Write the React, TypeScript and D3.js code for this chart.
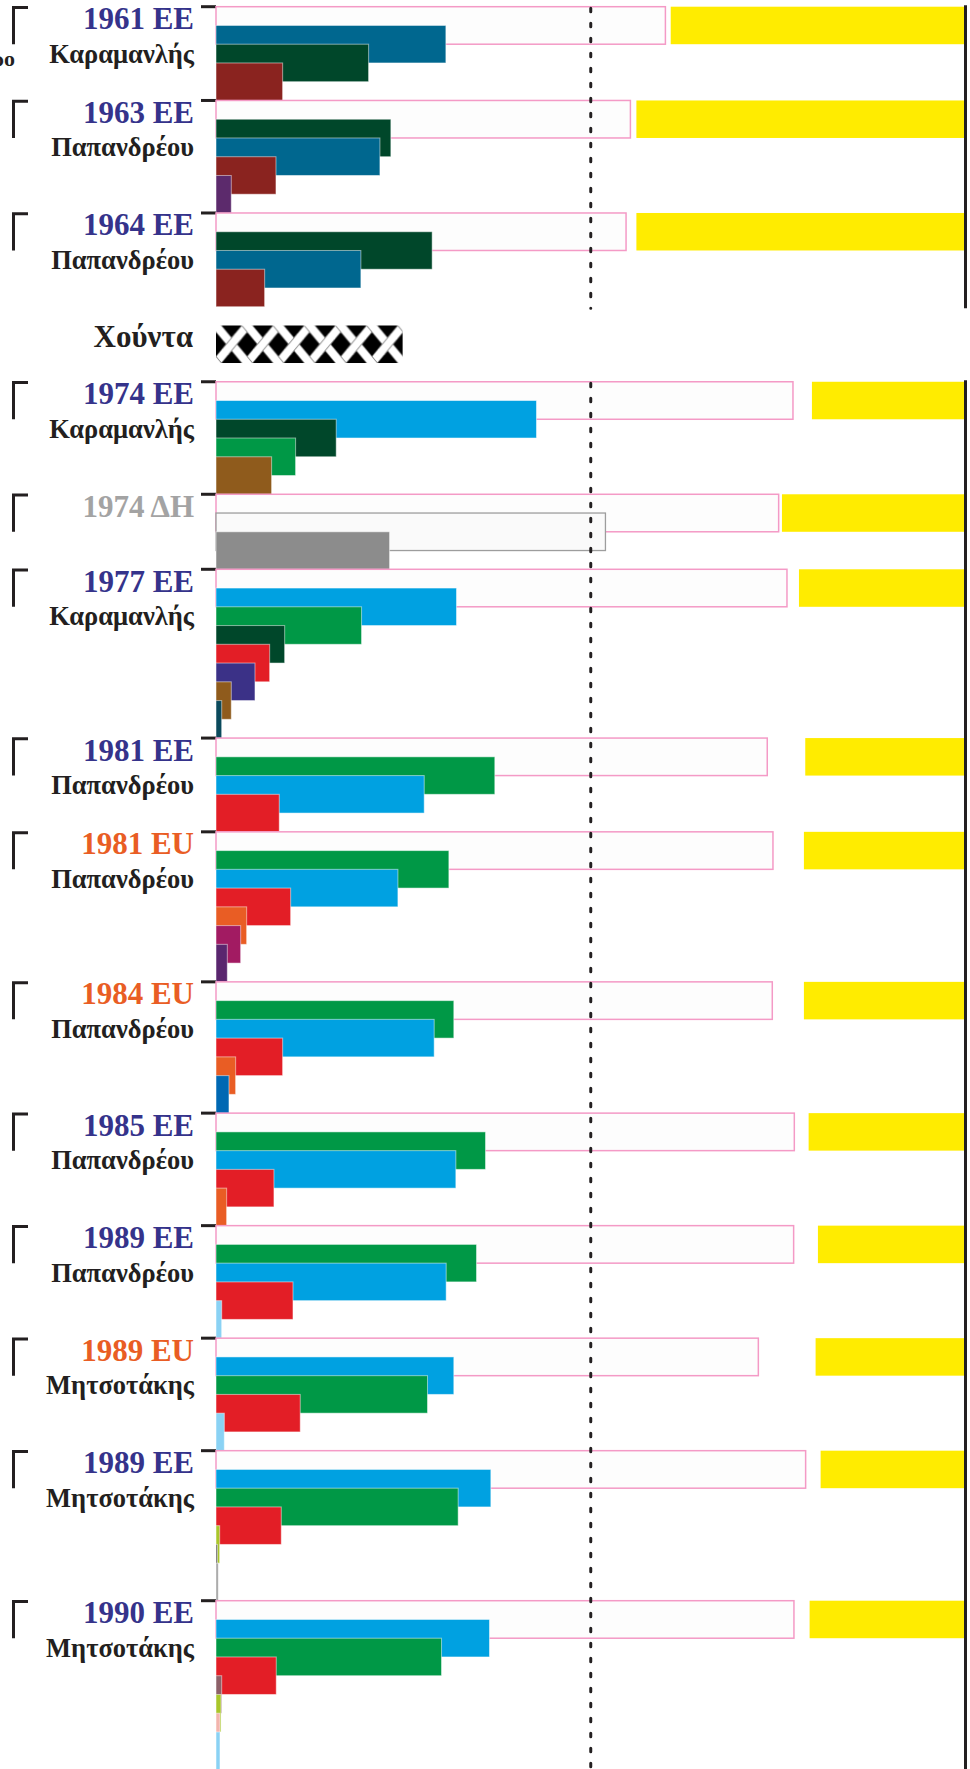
import React from 'react';
import * as d3 from 'd3';

// elections, top to bottom
const ELECTIONS = ['1961 EE', '1963 EE', '1964 EE', '1974 EE', '1974 ΔΗ', '1977 EE', '1981 EE', '1981 EU', '1984 EU', '1985 EE', '1989 EE', '1989 EU', '1989 EE', '1990 EE'];
const LEADERS = ['Καραμανλής', 'Παπανδρέου', 'Παπανδρέου', 'Καραμανλής', '', 'Καραμανλής', 'Παπανδρέου', 'Παπανδρέου', 'Παπανδρέου', 'Παπανδρέου', 'Παπανδρέου', 'Μητσοτάκης', 'Μητσοτάκης', 'Μητσοτάκης'];

// % of registered voters: valid votes (pink box) and votes cast (yellow starts there)
const VALID = [59.96, 55.29, 54.71, 76.98, 75.07, 76.18, 73.55, 74.31, 74.22, 77.16, 77.07, 72.36, 78.67, 77.11];
const CAST = [60.67, 56.09, 56.09, 79.51, 75.51, 77.78, 78.62, 78.44, 78.44, 79.07, 80.31, 80.0, 80.67, 79.2];

const PARTIES = [
  ['ERE', 'EK', 'PAME'],
  ['EK', 'ERE', 'EDA', 'PADE'],
  ['EK', 'ERE', 'EDA'],
  ['ND', 'EKND', 'PASOK', 'EA'],
  ['Republic', 'Monarchy'],
  ['ND', 'PASOK', 'EDIK', 'KKE', 'EP', 'SPAD', 'KODISO'],
  ['PASOK', 'ND', 'KKE'],
  ['PASOK', 'ND', 'KKE', 'KKEes', 'KODISO81', 'EPEN81'],
  ['PASOK', 'ND', 'KKE', 'KKEes', 'EPEN'],
  ['PASOK', 'ND', 'KKE', 'KKEes'],
  ['PASOK', 'ND', 'SYN', 'DIANA'],
  ['ND', 'PASOK', 'SYN', 'DIANA'],
  ['ND', 'PASOK', 'SYN', 'OIKO', 'OTHER1', 'OTHER2'],
  ['ND', 'PASOK', 'SYN', 'MAUVE', 'OIKO', 'PINK', 'DIANA'],
];
const SHARES = [
  [30.67, 20.36, 8.89],
  [23.33, 21.87, 8.0, 2.04],
  [28.84, 19.33, 6.49],
  [42.76, 16.04, 10.62, 7.42],
  [51.96, 23.16],
  [32.09, 19.42, 9.16, 7.16, 5.2, 2.04, 0.76],
  [37.2, 27.78, 8.44],
  [31.07, 24.27, 9.96, 4.09, 3.29, 1.51],
  [31.73, 29.11, 8.89, 2.62, 1.73],
  [35.96, 32.0, 7.73, 1.42],
  [34.76, 30.71, 10.27, 0.76],
  [31.73, 28.22, 11.24, 1.11],
  [36.67, 32.31, 8.71, 0.49, 0.2, 0.3],
  [36.49, 30.09, 8.04, 0.76, 0.67, 0.53, 0.53],
];

const JUNTA_AFTER = 2; // junta block follows the 1964 election
const JUNTA_LABEL = 'Χούντα';
const JUNTA_SPAN = 24.9;
const MAJORITY = 50;

const COLORS: Record<string, string> = {
  ERE: '#00678f', EK: '#00472a', PAME: '#8a231f', EDA: '#8a231f', PADE: '#5c2a6c',
  ND: '#00a1e1', EKND: '#00472a', PASOK: '#009846', EA: '#8f5b1c',
  Republic: '#fafafa', Monarchy: '#8c8c8c',
  EDIK: '#00472a', KKE: '#e31e26', EP: '#3b3187', SPAD: '#8f5b1c', KODISO: '#0b4a5c',
  KKEes: '#e95d24', KODISO81: '#a21b62', EPEN81: '#5a266e', EPEN: '#0068b3',
  SYN: '#e31e26', DIANA: '#8ad2f4', OIKO: '#a9c62a', OTHER1: '#5d5d5d', OTHER2: '#a0a0a0',
  MAUVE: '#8d6068', PINK: '#f3b4ad',
};

const titleColor = (t: string) => (t.endsWith('EU') ? '#e95d24' : t.endsWith('ΔΗ') ? '#a3a3a3' : '#35338b');

const INK = '#231f20';
const SERIF = '"Liberation Serif", "Times New Roman", serif';

export default function App() {
  // lay out rows: each election gets a box row pair plus one row per party
  let row = 0;
  const blocks = ELECTIONS.map((title, i) => {
    const b = { title, leader: LEADERS[i], start: row, i };
    row += PARTIES[i].length + 2;
    return b;
  });
  const juntaRow = blocks[JUNTA_AFTER].start + PARTIES[JUNTA_AFTER].length + 2;
  blocks.forEach((b) => {
    if (b.i > JUNTA_AFTER) b.start += 4;
  });
  const totalRows = row + 4;

  const W = 970;
  const H = 1769;
  const y = d3.scaleLinear().domain([0, totalRows]).range([6.7, 6.7 + totalRows * 18.753]);
  const x = d3.scaleLinear().domain([0, 100]).range([216, 965.5]);
  const rowH = y(2) - y(0);

  const segs = [
    [y(0) - 1.5, y(juntaRow) + 1.5],
    [y(juntaRow + 4) - 1.5, H],
  ];

  const tw = 31.2;
  const th = rowH;

  return (
    <svg width={W} height={H} style={{ position: 'absolute', left: 0, top: 0, background: '#fff' }}>
      <defs>
        <pattern id="junta" patternUnits="userSpaceOnUse" x={x(0)} y={y(juntaRow + 1)} width={tw} height={th}>
          <rect width={tw} height={th} fill="#000" />
          {[
            [-tw, 2 * th, 2 * tw, -th],
            [-tw, th, tw, -th],
            [0, 2 * th, 2 * tw, 0],
          ].map((l, k) => (
            <g key={'a' + k}>
              <line x1={l[0]} y1={l[1]} x2={l[2]} y2={l[3]} stroke="#777" strokeWidth={9} />
              <line x1={l[0]} y1={l[1]} x2={l[2]} y2={l[3]} stroke="#fff" strokeWidth={7.5} />
            </g>
          ))}
          {[
            [-tw, -th, 2 * tw, 2 * th],
            [0, -th, 2 * tw, th],
            [-tw, 0, tw, 2 * th],
          ].map((l, k) => (
            <g key={'b' + k}>
              <line x1={l[0]} y1={l[1]} x2={l[2]} y2={l[3]} stroke="#777" strokeWidth={9} />
              <line x1={l[0]} y1={l[1]} x2={l[2]} y2={l[3]} stroke="#fff" strokeWidth={7.5} />
            </g>
          ))}
          <line x1={tw * 0.3} y1={th * 0.7} x2={tw * 0.7} y2={th * 0.3} stroke="#777" strokeWidth={9} />
          <line x1={tw * 0.28} y1={th * 0.72} x2={tw * 0.72} y2={th * 0.28} stroke="#fff" strokeWidth={7.5} />
        </pattern>
      </defs>

      <text x={15} y={66} textAnchor="end" fontFamily={SERIF} fontWeight="bold" fontSize={22} fill={INK}>
        ρο
      </text>

      {blocks.map((b) => {
        const y0 = y(b.start);
        const parties = PARTIES[b.i];
        const shares = SHARES[b.i];
        return (
          <g key={b.i}>
            <path d={`M13.5,${y0 + 37.5}V${y0 + 0.8}H28`} fill="none" stroke={INK} strokeWidth={3} />
            <line x1={201} x2={216} y1={y0} y2={y0} stroke={INK} strokeWidth={3} />
            <text x={194} y={y0 + 22.5} textAnchor="end" fontFamily={SERIF} fontWeight="bold" fontSize={31} fill={titleColor(b.title)}>
              {b.title}
            </text>
            {b.leader && (
              <text x={194} y={y0 + 56} textAnchor="end" fontFamily={SERIF} fontWeight="bold" fontSize={26.5} fill={INK}>
                {b.leader}
              </text>
            )}
            <rect x={x(0)} y={y0} width={x(VALID[b.i]) - x(0)} height={rowH} fill="#fdfdfd" stroke="#f49ac6" strokeWidth={1.5} />
            <rect x={x(CAST[b.i])} y={y0} width={x(100) - x(CAST[b.i])} height={rowH} fill="#ffec00" />
            {parties.map((p, j) => {
              const outline = p === 'Republic';
              return (
                <rect
                  key={p}
                  x={x(0)}
                  y={y(b.start + 1 + j)}
                  width={Math.max(0.6, x(shares[j]) - x(0))}
                  height={rowH}
                  fill={COLORS[p]}
                  stroke={outline ? '#9d9d9d' : 'rgba(255,255,255,0.5)'}
                  strokeWidth={outline ? 1.3 : 1}
                />
              );
            })}
          </g>
        );
      })}

      <g>
        <text x={193} y={y(juntaRow) + 40.5} textAnchor="end" fontFamily={SERIF} fontWeight="bold" fontSize={31} fill={INK}>
          {JUNTA_LABEL}
        </text>
        <rect x={x(0)} y={y(juntaRow + 1)} width={x(JUNTA_SPAN) - x(0)} height={rowH} fill="url(#junta)" />
      </g>

      {segs.map((s, k) => (
        <g key={k}>
          <line x1={x(MAJORITY)} x2={x(MAJORITY)} y1={s[0] + 3} y2={s[1]} stroke={INK} strokeWidth={3} strokeDasharray="3.5 11.5" strokeLinecap="round" />
          <line x1={x(100)} x2={x(100)} y1={s[0]} y2={s[1]} stroke={INK} strokeWidth={3} />
        </g>
      ))}
    </svg>
  );
}
